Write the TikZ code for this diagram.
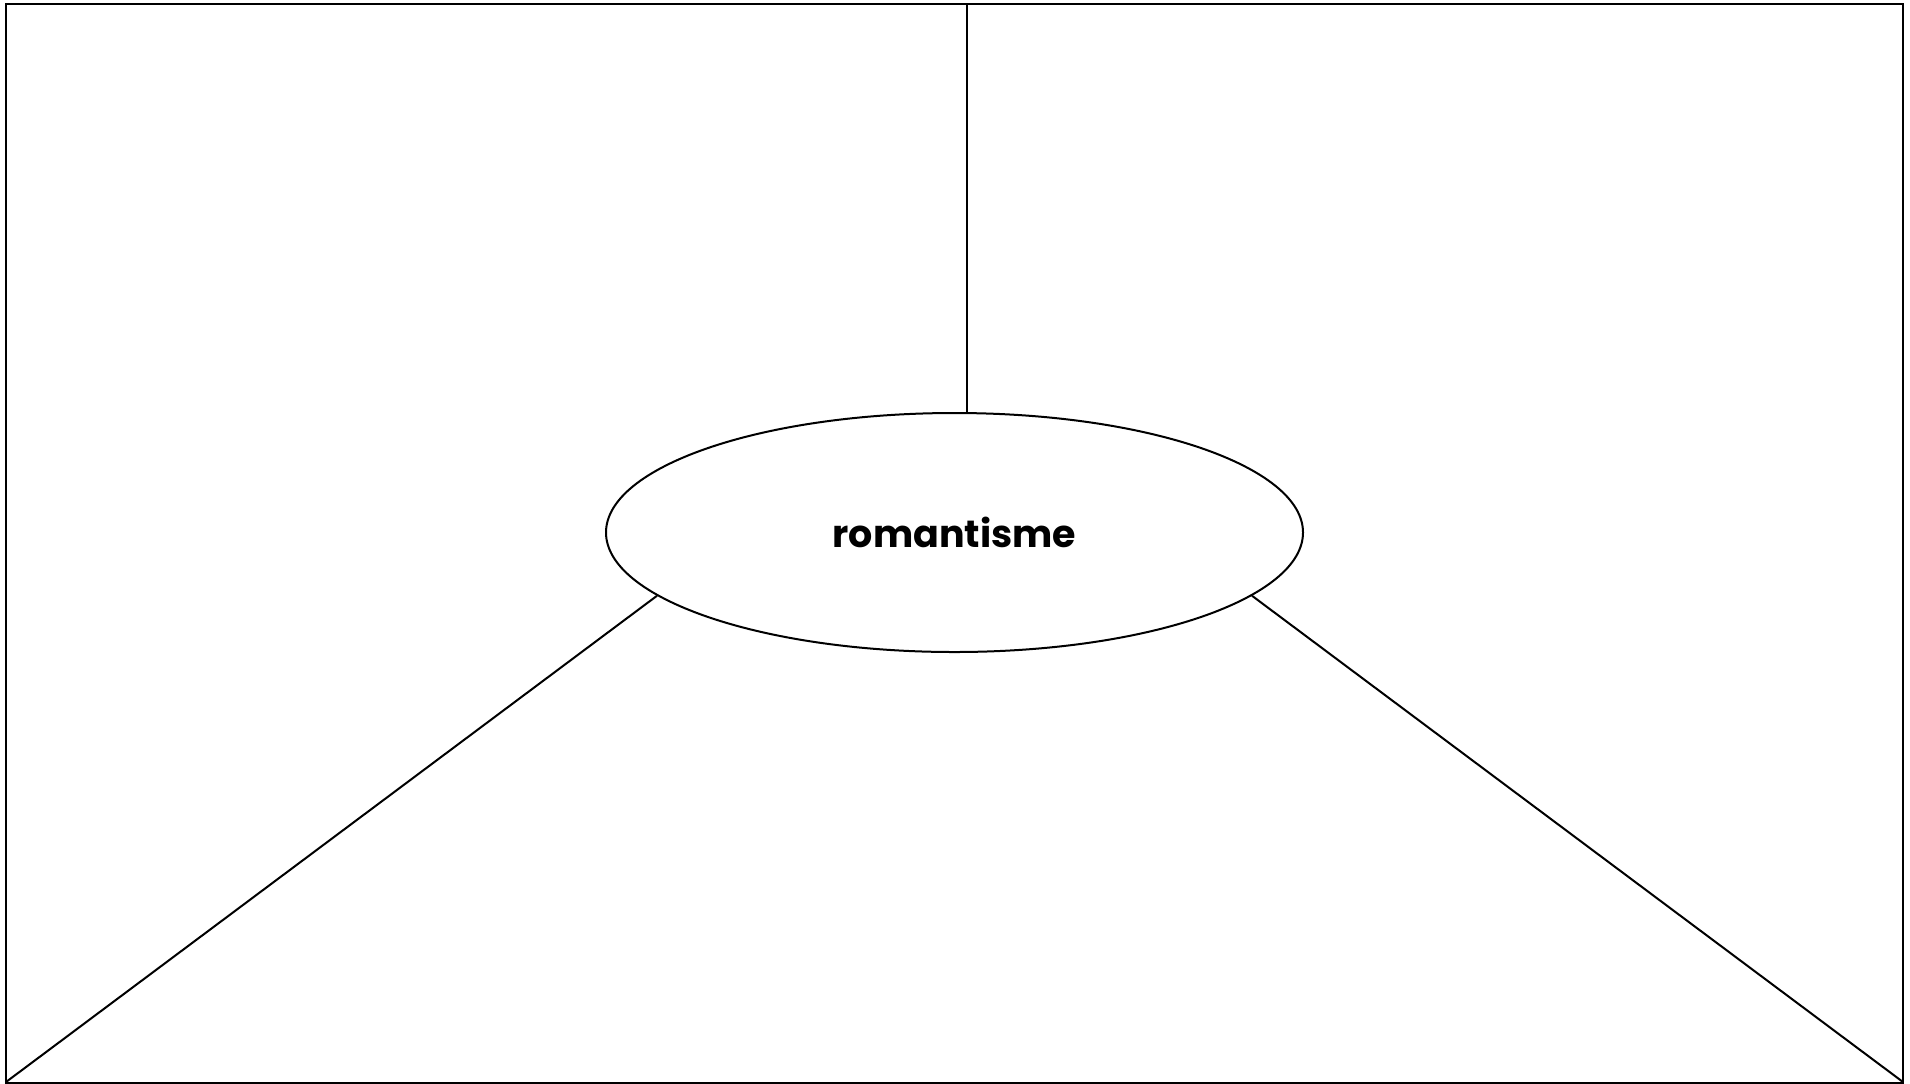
\documentclass[tikz,border=0pt]{standalone}
\usepackage{fontspec}
\newfontfamily\popfont{Poppins}
\usetikzlibrary{shapes.geometric}
\tikzset{
  ln/.style={draw=black, line width=1pt},
  bubble/.style={ellipse, ln, minimum width=348.5pt, minimum height=119.5pt, inner sep=0pt,
    font=\popfont\bfseries\fontsize{19}{22}\selectfont}
}
\begin{document}
\begin{tikzpicture}[x=0.5pt,y=-0.5pt]
\useasboundingbox (0,0) rectangle (1910,1083);
\draw[ln] (6,4) rectangle (1903,1082.5);
\coordinate (top) at (967,4);
\coordinate (bl) at (6,1082);
\coordinate (br) at (1903,1082);
\node[bubble] (e) at (954.5,532.5) {romantisme};
\draw[ln] (top) -- (top |- e.north);
\draw[ln] (e.192) -- (bl);
\draw[ln] (e.-12) -- (br);
\end{tikzpicture}
\end{document}
